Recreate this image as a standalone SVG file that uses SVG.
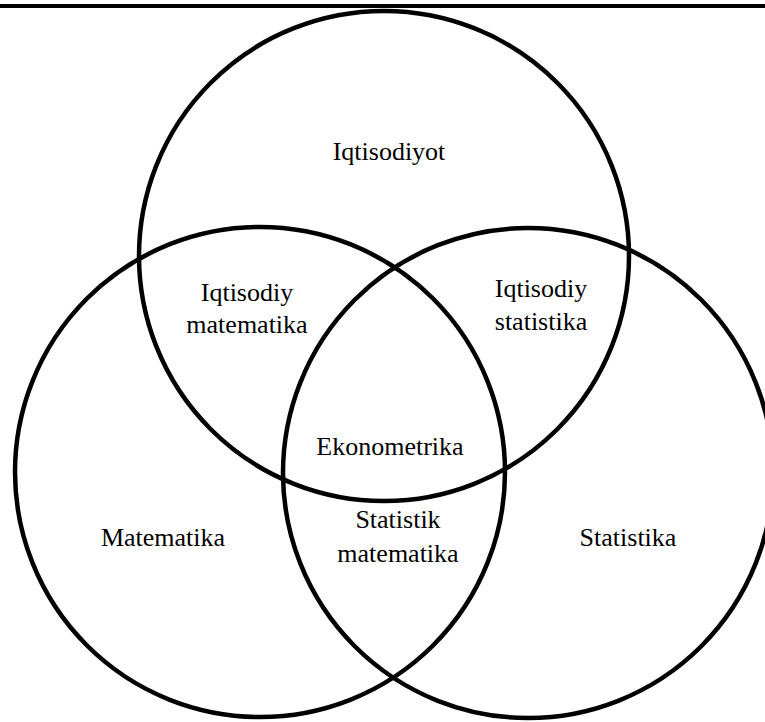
<svg xmlns="http://www.w3.org/2000/svg" width="765" height="722" viewBox="0 0 765 722">
<style>
.c{fill:none;stroke:#000;stroke-width:4.5}
.t{font-family:"Liberation Serif","Times New Roman",serif;font-size:26px;fill:#000;text-anchor:middle}
</style>
<rect width="765" height="722" fill="#fff"/>
<rect x="0" y="4" width="765" height="4" fill="#000"/>
<g id="connectors"></g>
<g id="iqtisodiyot">
<circle class="c" cx="384" cy="256" r="245"/>
<text class="t" x="389" y="160">Iqtisodiyot</text>
</g>
<g id="matematika">
<circle class="c" cx="260" cy="472" r="245"/>
<text class="t" x="163" y="546">Matematika</text>
</g>
<g id="statistika">
<circle class="c" cx="528" cy="473" r="245"/>
<text class="t" x="628" y="546">Statistika</text>
</g>
<g id="iqtisodiy-matematika">
<text class="t" x="247" y="301">Iqtisodiy</text>
<text class="t" x="247" y="333">matematika</text>
</g>
<g id="iqtisodiy-statistika">
<text class="t" x="541" y="297">Iqtisodiy</text>
<text class="t" x="541" y="330">statistika</text>
</g>
<g id="ekonometrika">
<text class="t" x="390" y="455">Ekonometrika</text>
</g>
<g id="statistik-matematika">
<text class="t" x="398" y="528">Statistik</text>
<text class="t" x="398" y="562">matematika</text>
</g>
</svg>
